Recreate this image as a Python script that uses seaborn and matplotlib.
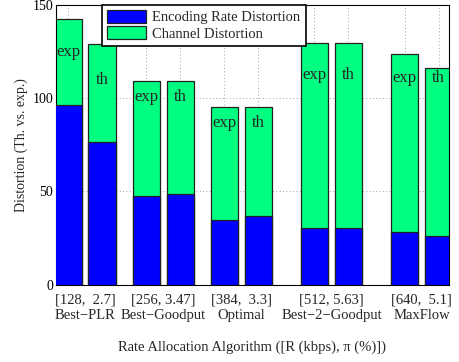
import numpy as np
import pandas as pd
import matplotlib
matplotlib.use("Agg")
import matplotlib.pyplot as plt
import seaborn as sns
from matplotlib.patches import Patch

# Rate allocation schemes: [R (kbps), pi (%)] and algorithm names
rate_labels = ["[128,  2.7]", "[256, 3.47]", "[384,  3.3]", "[512, 5.63]", "[640,  5.1]"]
algorithms = ["Best\u2212PLR", "Best\u2212Goodput", "Optimal", "Best\u22122\u2212Goodput", "MaxFlow"]

# Distortion per scheme: experimental (exp) vs theoretical (th)
total_exp = [142.1, 109.2, 95.0, 129.2, 123.3]
total_th = [128.7, 109.2, 95.0, 129.6, 116.0]
encoding_exp = [96.0, 47.5, 34.5, 30.5, 28.4]
encoding_th = [76.6, 48.4, 36.8, 30.4, 26.1]

# Layout of groups along the x axis and height of the in-bar tags
group_x = [2.5, 4.8, 7.1, 9.75, 12.4]
tag_y = [(124.6, 109.6), (100.5, 100.5), (86.8, 86.8), (112.3, 112.3), (110.9, 110.9)]

rows = []
for i, gx in enumerate(group_x):
    rows.append(dict(x=gx - 0.5, total=total_exp[i], enc=encoding_exp[i], kind="exp", ty=tag_y[i][0]))
    rows.append(dict(x=gx + 0.5, total=total_th[i], enc=encoding_th[i], kind="th", ty=tag_y[i][1]))
df = pd.DataFrame(rows)

sns.set_style("white")
plt.rcParams["font.family"] = ["Liberation Serif", "DejaVu Serif"]

blue = "#0000FF"
green = "#00FF80"
edge = "#222222"

fig = plt.figure(figsize=(4.59, 3.62), dpi=100)
ax = fig.add_axes([56 / 459, 1 - 284.7 / 362, 393 / 459, 280.2 / 362])

sns.barplot(data=df, x="x", y="total", native_scale=True, color=green, saturation=1,
            width=0.8, edgecolor=edge, linewidth=0.9, errorbar=None, ax=ax, zorder=2)
sns.barplot(data=df, x="x", y="enc", native_scale=True, color=blue, saturation=1,
            width=0.8, edgecolor=edge, linewidth=0.9, errorbar=None, ax=ax, zorder=3)

for _, r in df.iterrows():
    ax.text(r["x"], r["ty"], r["kind"], ha="center", va="center", fontsize=12, zorder=4)

ax.set_xlim(56 / 34, 449 / 34)
ax.set_ylim(0, 150)
ax.set_yticks([0, 50, 100, 150])
ax.set_xticks(df["x"].tolist())
ax.set_xticklabels([])
ax.tick_params(axis="both", direction="in", length=3, width=0.6, top=True, right=True,
               labelsize=10, colors="black", pad=2)
ax.tick_params(axis="x", length=0)
ax.grid(True, linestyle=(0, (1, 3)), color="#888888", linewidth=0.6, zorder=0)
ax.set_axisbelow(True)
for s in ax.spines.values():
    s.set_visible(True)
    s.set_color("black")
    s.set_linewidth(0.8)

for gx, rl, alg in zip(group_x, rate_labels, algorithms):
    ax.text(gx, -4.5, rl, ha="center", va="top", fontsize=10.5)
    ax.text(gx, -13.0, alg, ha="center", va="top", fontsize=10.5)

ax.set_xlabel("Rate Allocation Algorithm ([R (kbps), \u03c0 (%)])", fontsize=10.5, labelpad=38.5)
ax.set_ylabel("Distortion (Th. vs. exp.)", fontsize=10, labelpad=3)

handles = [Patch(facecolor=blue, edgecolor=edge, linewidth=0.9, label="Encoding Rate Distortion"),
           Patch(facecolor=green, edgecolor=edge, linewidth=0.9, label="Channel Distortion")]
leg = ax.legend(handles=handles, loc="upper left", bbox_to_anchor=((102 - 56) / 393, 1.0),
                fontsize=10.5, frameon=True, fancybox=False, framealpha=1, edgecolor="black",
                borderpad=0.35, handlelength=2.7, handleheight=1.0, handletextpad=0.4,
                labelspacing=0.15, borderaxespad=0)
leg.get_frame().set_linewidth(1.2)
leg.set_zorder(5)

fig.savefig("out.png", dpi=100)
